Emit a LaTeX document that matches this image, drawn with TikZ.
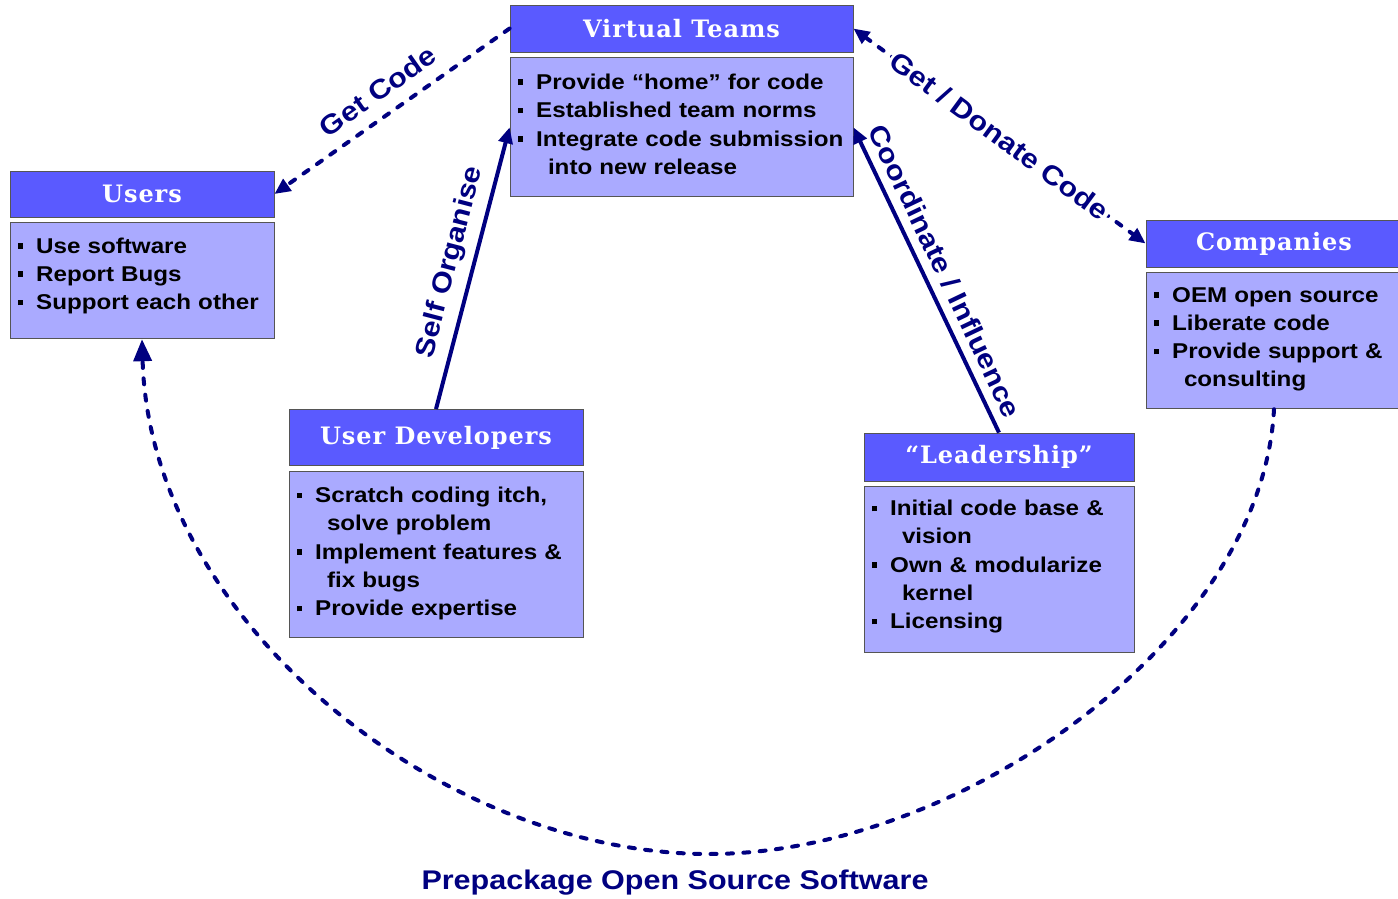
\documentclass[tikz,border=0pt]{standalone}
\usepackage{fontspec}
\setmainfont{Liberation Sans}[FakeStretch=1.13]
\newfontfamily\headfont{DejaVu Serif}[LetterSpace=4]
\usetikzlibrary{arrows.meta,positioning}

\definecolor{navyline}{RGB}{0,0,128}
\definecolor{headblue}{RGB}{90,90,255}
\definecolor{bodyblue}{RGB}{170,170,255}
\definecolor{boxedge}{RGB}{85,85,85}

\newcommand{\bul}{\rule[2.2pt]{2.6pt}{2.8pt}\hspace{6.5pt}}
\newcommand{\itm}[1]{\mbox{\bul#1}}
\newcommand{\cnt}[1]{\mbox{\hspace{15pt}#1}}

\tikzset{
  head/.style={draw=boxedge, fill=headblue, text=white, inner sep=0pt,
    font=\headfont\bfseries\fontsize{12}{14}\selectfont},
  body/.style={draw=boxedge, fill=bodyblue, align=left, inner xsep=4pt, inner ysep=0pt,
    font=\bfseries\fontsize{10.7}{14.15}\selectfont,
    execute at end node={\par\kern#1}},
  body/.default=0pt,
  link/.style={draw=navyline, line width=2pt, ->},
  dotlink/.style={link, line cap=round, dash pattern=on 3pt off 5.2pt},
  tag/.style={text=navyline, font=\bfseries\fontsize{13.5}{16}\selectfont},
}

\begin{document}
\begin{tikzpicture}[x=0.5pt, y=-0.5pt, >={Triangle[length=8pt,width=7pt]}]
\useasboundingbox (0,0) rectangle (1398,899);

% the five groups
\node[head, minimum width=171.5pt, minimum height=23.5pt] (vth) at (681.5,28.5) {Virtual Teams};
\node[body=3pt, text width=163.5pt, minimum height=69.5pt, below=2.5pt of vth] (vtb)
  {\itm{Provide “home” for code}\\ \itm{Established team norms}\\
   \itm{Integrate code submission}\\ \cnt{into new release}};

\node[head, minimum width=132pt, minimum height=23pt] (ush) at (142,194) {Users};
\node[body=5pt, text width=124pt, minimum height=58pt, below=2.5pt of ush] (usb)
  {\itm{Use software}\\ \itm{Report Bugs}\\ \itm{Support each other}};

\node[head, minimum width=128pt, minimum height=23.5pt] (coh) at (1274,243.5) {Companies};
\node[body=1.5pt, text width=120pt, minimum height=68pt, below=2.5pt of coh] (cob)
  {\itm{OEM open source}\\ \itm{Liberate code}\\
   \itm{Provide support \&}\\ \cnt{consulting}};

\node[head, minimum width=147pt, minimum height=28pt] (udh) at (436,437.5) {User Developers};
\node[body=0.7pt, text width=139pt, minimum height=83pt, below=2.5pt of udh] (udb)
  {\itm{Scratch coding itch,}\\ \cnt{solve problem}\\
   \itm{Implement features \&}\\ \cnt{fix bugs}\\ \itm{Provide expertise}};

\node[head, minimum width=135pt, minimum height=24pt] (ldh) at (999,457) {“Leadership”};
\node[body=3pt, text width=127pt, minimum height=83pt, below=2.5pt of ldh] (ldb)
  {\itm{Initial code base \&}\\ \cnt{vision}\\
   \itm{Own \& modularize}\\ \cnt{kernel}\\ \itm{Licensing}};

% links
\draw[dotlink] (vth.west) -- node[tag, sloped, above=3pt] {Get Code} (ush.east);
\draw[dotlink, <->] (vth.east) -- node[tag, sloped, fill=white, inner sep=1pt] {Get / Donate Code} (coh.west);
\draw[link] (udh.north) -- node[tag, sloped, above=1pt] {Self Organise} (vtb.west);
\draw[link] (ldh.north) -- node[tag, sloped, above=1pt] {Coordinate / Influence} (vtb.east);

% prepackaged software loop
\coordinate (arcbot) at (709,854);
\draw[dotlink, >={Triangle[length=11pt,width=9pt]}] (cob.south)
  .. controls (1262,640) and (960,854) .. (arcbot)
  .. controls (440,854) and (150,620) .. (usb.south);
\node[tag] (pkg) at (675,883) {Prepackage Open Source Software};
\end{tikzpicture}
\end{document}
